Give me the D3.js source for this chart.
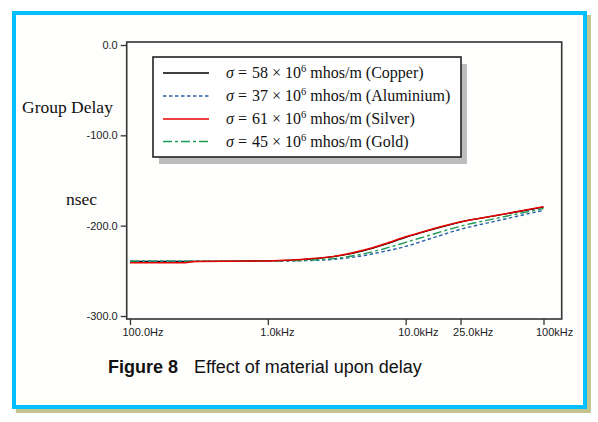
<!DOCTYPE html>
<html>
<head>
<meta charset="utf-8">
<script src="https://cdn.jsdelivr.net/npm/d3@7"></script>
<style>
  html, body { margin: 0; padding: 0; background: #ffffff; }
  svg { display: block; }
</style>
</head>
<body>
<div id="svgContainer"></div>
<script>
// values (frequency in Hz, delay in nsec)
const freqs = [100, 250, 300, 500, 1000, 1500, 2000, 3000, 5000, 7000, 10000, 15000, 25000, 45000, 100000];
const copper = [-239.5, -239.5, -239.5, -239.3, -239, -238.2, -237, -234.3, -227.5, -221, -213, -205, -196, -189, -179.5];
const aluminium = [-239.4, -239.4, -239.4, -239.4, -239.3, -239, -238.6, -237.3, -233, -228.5, -223, -214.5, -204, -195, -183];
const silver = [-241, -241, -239.6, -239.3, -239, -238, -236.7, -234, -227, -220.3, -212.3, -204.5, -195.6, -188.8, -179];
const gold = [-239.3, -239.3, -239.3, -239.3, -239.2, -238.8, -238.2, -236.5, -231, -225.5, -218.5, -210.5, -200.5, -192, -181];

const seriesNames = ["Copper", "Aluminium", "Silver", "Gold"];
const sigmaValues = ["58", "37", "61", "45"];

const xTickValues = [100, 1000, 10000, 25000, 100000];
const xTickLabels = ["100.0Hz", "1.0kHz", "10.0kHz", "25.0kHz", "100kHz"];
const yTickValues = [0, -100, -200, -300];
const yTickLabels = ["0.0", "-100.0", "-200.0", "-300.0"];

const width = 598;
const height = 422;

const svg = d3
  .select("#svgContainer")
  .append("svg")
  .attr("width", width)
  .attr("height", height);

// outer frame with khaki drop shadow
svg.append("rect")
  .attr("x", 16).attr("y", 15)
  .attr("width", 575).attr("height", 398)
  .attr("fill", "#c4c490");
svg.append("rect")
  .attr("x", 14).attr("y", 13)
  .attr("width", 571).attr("height", 394)
  .attr("fill", "#fefefc")
  .attr("stroke", "#00c0ff")
  .attr("stroke-width", 4);

const x = d3.scaleLog().domain([100, 100000]).range([130, 543.5]);
const y = d3.scaleLinear().domain([0, -300]).range([45, 316]);

const plot = { left: 126.7, top: 42, right: 561.7, bottom: 319 };

// x axis
const xAxis = svg.append("g")
  .attr("transform", `translate(0,${plot.bottom})`)
  .call(d3.axisBottom(x)
    .tickValues(xTickValues)
    .tickFormat((d, i) => xTickLabels[i])
    .tickSize(6));
xAxis.select(".domain").remove();
xAxis.selectAll("line").attr("stroke", "#333").attr("stroke-width", 1.3);
xAxis.selectAll("text")
  .attr("text-anchor", "start")
  .attr("x", -8)
  .attr("y", 9)
  .attr("fill", "#222")
  .style("font-family", "'Liberation Sans', Arial, sans-serif")
  .style("font-size", "11px");

// y axis
const yAxis = svg.append("g")
  .attr("transform", `translate(${plot.left},0)`)
  .call(d3.axisLeft(y)
    .tickValues(yTickValues)
    .tickFormat((d, i) => yTickLabels[i])
    .tickSize(6)
    .tickPadding(3));
yAxis.select(".domain").remove();
yAxis.selectAll("line").attr("stroke", "#333").attr("stroke-width", 1.3);
yAxis.selectAll("text")
  .attr("fill", "#222")
  .style("font-family", "'Liberation Sans', Arial, sans-serif")
  .style("font-size", "11px");

// plot frame
svg.append("rect")
  .attr("x", plot.left).attr("y", plot.top)
  .attr("width", plot.right - plot.left)
  .attr("height", plot.bottom - plot.top)
  .attr("fill", "none")
  .attr("stroke", "#333")
  .attr("stroke-width", 1.6);

// axis titles
svg.append("text")
  .attr("x", 22).attr("y", 113)
  .text("Group Delay")
  .style("font-family", "'Liberation Serif', 'Times New Roman', serif")
  .style("font-size", "17.5px")
  .attr("fill", "#111");
svg.append("text")
  .attr("x", 66).attr("y", 205)
  .text("nsec")
  .style("font-family", "'Liberation Serif', 'Times New Roman', serif")
  .style("font-size", "17.5px")
  .attr("fill", "#111");

// series
const series = [
  { name: "Copper", values: copper, color: "#000000", dash: null, w: 1.3 },
  { name: "Aluminium", values: aluminium, color: "#2b62a8", dash: "3.5,2.5", w: 1.4 },
  { name: "Gold", values: gold, color: "#1f9a55", dash: "9,3,3,3", w: 1.4 },
  { name: "Silver", values: silver, color: "#e80000", dash: null, w: 1.5 },
];

const line = d3.line()
  .x((d) => x(d.f))
  .y((d) => y(d.v))
  .curve(d3.curveMonotoneX);

svg.selectAll(".series")
  .data(series)
  .enter()
  .append("path")
  .attr("class", "series")
  .attr("d", (s) => line(freqs.map((f, i) => ({ f: f, v: s.values[i] }))))
  .attr("fill", "none")
  .attr("stroke", (s) => s.color)
  .attr("stroke-width", (s) => s.w)
  .attr("stroke-dasharray", (s) => s.dash);

// legend
const legend = { x: 153, y: 57, w: 308, h: 100 };
svg.append("rect")
  .attr("x", legend.x + 6).attr("y", legend.y + 7)
  .attr("width", legend.w).attr("height", legend.h)
  .attr("fill", "#bdbdbd");
svg.append("rect")
  .attr("x", legend.x).attr("y", legend.y)
  .attr("width", legend.w).attr("height", legend.h)
  .attr("fill", "#ffffff")
  .attr("stroke", "#222")
  .attr("stroke-width", 1.6);

const legendOrder = ["Copper", "Aluminium", "Silver", "Gold"];
const rowY = [73, 96, 119, 141.5];

legendOrder.forEach((name, i) => {
  const s = series.find((d) => d.name === name);
  svg.append("line")
    .attr("x1", 163).attr("x2", 209)
    .attr("y1", rowY[i]).attr("y2", rowY[i])
    .attr("stroke", s.color)
    .attr("stroke-width", s.w)
    .attr("stroke-dasharray", s.dash);

  const t = svg.append("text")
    .attr("y", rowY[i] + 5)
    .style("font-family", "'Liberation Serif', 'Times New Roman', serif")
    .style("font-size", "16px")
    .attr("fill", "#111");
  t.append("tspan").attr("x", 226).style("font-style", "italic").text("σ");
  t.append("tspan").attr("x", 238).text("=");
  t.append("tspan").attr("x", 252).text(sigmaValues[seriesNames.indexOf(name)] + " × 10");
  t.append("tspan").attr("dy", -6).style("font-size", "10.5px").text("6");
  t.append("tspan").attr("dy", 6).text(" mhos/m (" + name + ")");
});

// caption
const caption = svg.append("text")
  .attr("y", 373)
  .style("font-family", "'Liberation Sans', Arial, sans-serif")
  .style("font-size", "18px")
  .attr("fill", "#111");
caption.append("tspan").attr("x", 108).style("font-weight", "bold").text("Figure 8");
caption.append("tspan").attr("x", 194).text("Effect of material upon delay");
</script>
</body>
</html>
